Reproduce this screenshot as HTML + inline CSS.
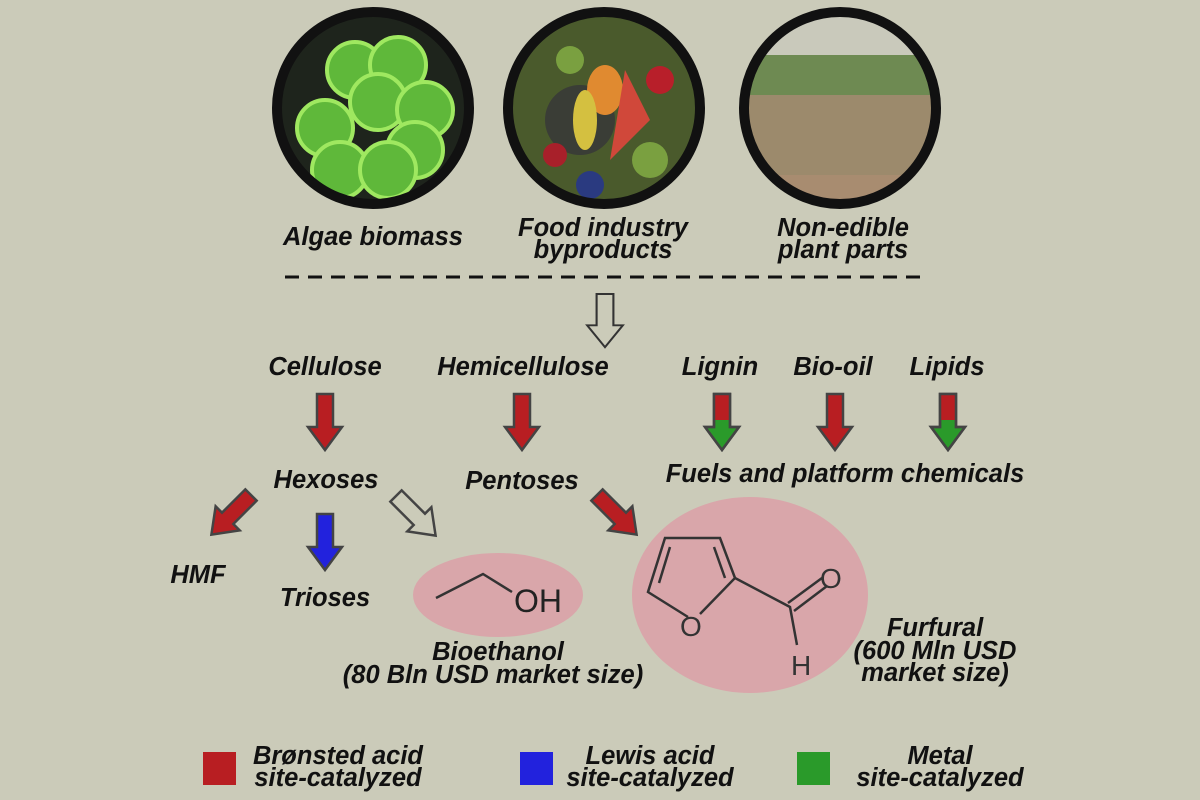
<!DOCTYPE html>
<html><head><meta charset="utf-8"><style>
html,body{margin:0;padding:0;background:#cbcbb9;}
svg{display:block}
text{font-family:"Liberation Sans",Arial,sans-serif;font-weight:bold;font-style:italic;fill:#111;}
</style></head><body>
<svg width="1200" height="800" viewBox="0 0 1200 800" xmlns="http://www.w3.org/2000/svg">
<defs>
<path id="arr" d="M-8,0 L8,0 L8,33 L17,33 L0,56 L-17,33 L-8,33 Z"/>
<clipPath id="c1"><circle cx="373" cy="108" r="95"/></clipPath>
<clipPath id="c2"><circle cx="604" cy="108" r="95"/></clipPath>
<clipPath id="c3"><circle cx="840" cy="108" r="95"/></clipPath>
<clipPath id="lg"><rect x="-20" y="0" width="40" height="26"/></clipPath>
</defs>
<rect width="1200" height="800" fill="#cbcbb9"/>

<g clip-path="url(#c1)">
<rect x="270" y="0" width="210" height="220" fill="#1e241c"/>
<g fill="#5fb83a" stroke="#9fe860" stroke-width="4">
<circle cx="355" cy="70" r="28"/><circle cx="398" cy="65" r="28"/>
<circle cx="378" cy="102" r="28"/><circle cx="425" cy="110" r="28"/>
<circle cx="325" cy="128" r="28"/><circle cx="415" cy="150" r="28"/>
<circle cx="340" cy="170" r="28"/><circle cx="388" cy="170" r="28"/>
</g></g>
<circle cx="373" cy="108" r="96" fill="none" stroke="#111" stroke-width="10"/>

<g clip-path="url(#c2)">
<rect x="500" y="0" width="210" height="220" fill="#4a5a2c"/>
<circle cx="580" cy="120" r="35" fill="#3a3d36"/>
<ellipse cx="605" cy="90" rx="18" ry="25" fill="#e08a30"/>
<ellipse cx="585" cy="120" rx="12" ry="30" fill="#d4c040"/>
<path d="M625,70 L650,120 L610,160 Z" fill="#d0483a"/>
<circle cx="660" cy="80" r="14" fill="#b81f2a"/>
<circle cx="555" cy="155" r="12" fill="#a8202a"/>
<circle cx="590" cy="185" r="14" fill="#2a3a80"/>
<circle cx="650" cy="160" r="18" fill="#7aa040"/>
<circle cx="570" cy="60" r="14" fill="#7aa040"/>
</g>
<circle cx="604" cy="108" r="96" fill="none" stroke="#111" stroke-width="10"/>

<g clip-path="url(#c3)">
<rect x="735" y="0" width="210" height="220" fill="#c9c9bb"/>
<rect x="735" y="55" width="210" height="40" fill="#6e8a52"/>
<rect x="735" y="95" width="210" height="80" fill="#9c8a6c"/>
<rect x="735" y="175" width="210" height="50" fill="#a88c70"/>
</g>
<circle cx="840" cy="108" r="96" fill="none" stroke="#111" stroke-width="10"/>

<g font-size="25.5" text-anchor="middle">
<text x="373" y="245">Algae biomass</text>
<text x="603" y="236">Food industry</text>
<text x="603" y="258">byproducts</text>
<text x="843" y="236">Non-edible</text>
<text x="843" y="258">plant parts</text>
</g>
<line x1="285" y1="277" x2="920" y2="277" stroke="#111" stroke-width="3" stroke-dasharray="14,9"/>

<g transform="translate(605,294)"><use href="#arr" fill="none" stroke="#333" stroke-width="2" transform="scale(1.05,0.95)"/></g>

<g font-size="25.5" text-anchor="middle">
<text x="325" y="375">Cellulose</text>
<text x="523" y="375">Hemicellulose</text>
<text x="720" y="375">Lignin</text>
<text x="833" y="375">Bio-oil</text>
<text x="947" y="375">Lipids</text>
<text x="326" y="488">Hexoses</text>
<text x="522" y="489">Pentoses</text>
<text x="845" y="482">Fuels and platform chemicals</text>
<text x="198" y="583">HMF</text>
<text x="325" y="606">Trioses</text>
<text x="498" y="660">Bioethanol</text>
<text x="493" y="683">(80 Bln USD market size)</text>
<text x="935" y="636">Furfural</text>
<text x="935" y="659">(600 Mln USD</text>
<text x="935" y="681">market size)</text>
</g>

<g stroke="#444" stroke-width="2.5" stroke-linejoin="miter">
<use href="#arr" fill="#b81e22" transform="translate(325,394)"/>
<use href="#arr" fill="#b81e22" transform="translate(522,394)"/>
<use href="#arr" fill="#b81e22" transform="translate(835,394)"/>
<use href="#arr" fill="#2a9a2a" transform="translate(722,394)"/>
<use href="#arr" fill="#b81e22" stroke="none" clip-path="url(#lg)" transform="translate(722,394)"/>
<use href="#arr" fill="none" transform="translate(722,394)"/>
<use href="#arr" fill="#2a9a2a" transform="translate(948,394)"/>
<use href="#arr" fill="#b81e22" stroke="none" clip-path="url(#lg)" transform="translate(948,394)"/>
<use href="#arr" fill="none" transform="translate(948,394)"/>
<use href="#arr" fill="#2222dd" transform="translate(325,514)"/>
<use href="#arr" fill="#b81e22" transform="translate(251,495) rotate(45)"/>
<use href="#arr" fill="none" transform="translate(396,496) rotate(-45)"/>
<use href="#arr" fill="#b81e22" transform="translate(597,495) rotate(-45)"/>
</g>

<ellipse cx="498" cy="595" rx="85" ry="42" fill="#d9a6aa"/>
<ellipse cx="750" cy="595" rx="118" ry="98" fill="#d9a6aa"/>
<g stroke="#333" stroke-width="2.5" fill="none">
<polyline points="436,598 483,574 512,592"/>
<polyline points="688,617 648,592 665,538 720,538 735,578 700,614"/>
<line x1="670" y1="547" x2="659" y2="583"/>
<line x1="714" y1="547" x2="725" y2="578"/>
<polyline points="735,578 790,607 797,645"/>
<line x1="788" y1="603" x2="822" y2="578"/>
<line x1="794" y1="611" x2="827" y2="586"/>
</g>
<g>
<text x="514" y="612" font-size="32" style="font-weight:normal;font-style:normal;fill:#222">OH</text>
<text x="680" y="636" font-size="28" style="font-weight:normal;font-style:normal;fill:#333">O</text>
<text x="820" y="588" font-size="28" style="font-weight:normal;font-style:normal;fill:#333">O</text>
<text x="791" y="675" font-size="28" style="font-weight:normal;font-style:normal;fill:#333">H</text>
</g>

<rect x="203" y="752" width="33" height="33" fill="#b81e22"/>
<rect x="520" y="752" width="33" height="33" fill="#2222dd"/>
<rect x="797" y="752" width="33" height="33" fill="#2a9a2a"/>
<g font-size="25.5" text-anchor="middle">
<text x="338" y="764">Brønsted acid</text>
<text x="338" y="786">site-catalyzed</text>
<text x="650" y="764">Lewis acid</text>
<text x="650" y="786">site-catalyzed</text>
<text x="940" y="764">Metal</text>
<text x="940" y="786">site-catalyzed</text>
</g>
</svg>
</body></html>
